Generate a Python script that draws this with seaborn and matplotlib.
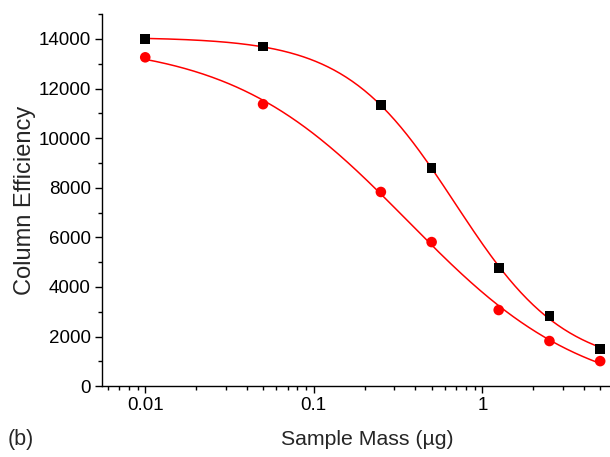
import numpy as np
import pandas as pd
import matplotlib
matplotlib.use("Agg")
import matplotlib.pyplot as plt
import seaborn as sns
from matplotlib.ticker import FixedLocator, FixedFormatter, LogLocator, MultipleLocator, NullFormatter

# ---- data ----
mass = [0.01, 0.05, 0.25, 0.5, 1.25, 2.5, 5.0]
eff_square = [14000, 13700, 11330, 8800, 4760, 2840, 1500]
eff_circle = [13260, 11370, 7830, 5810, 3070, 1820, 1010]
xtick_vals = [0.01, 0.1, 1]
xtick_labels = ["0.01", "0.1", "1"]
ytick_vals = [0, 2000, 4000, 6000, 8000, 10000, 12000, 14000]


def logistic(p, x):
    a1, a2, lx0, k = p
    return a2 + (a1 - a2) / (1.0 + 10 ** (k * (np.log10(x) - lx0)))


def fit_logistic(x, y, p0, iters=300):
    x = np.asarray(x, float)
    y = np.asarray(y, float)
    p = np.array(p0, float)
    lam = 1e-2
    def res(p):
        return logistic(p, x) - y
    r = res(p)
    cost = np.sum(r ** 2)
    for _ in range(iters):
        J = np.zeros((len(x), len(p)))
        for j in range(len(p)):
            dp = np.zeros_like(p)
            dp[j] = 1e-6 * max(1.0, abs(p[j]))
            J[:, j] = (res(p + dp) - r) / dp[j]
        A = J.T @ J
        g = J.T @ r
        step = np.linalg.solve(A + lam * np.diag(np.diag(A) + 1e-12), -g)
        pn = p + step
        rn = res(pn)
        cn = np.sum(rn ** 2)
        if cn < cost:
            p, r, cost = pn, rn, cn
            lam *= 0.3
        else:
            lam *= 10
    return p


p_sq = fit_logistic(mass, eff_square, [14000, 0, np.log10(0.6), 1.5])
p_ci = fit_logistic(mass, eff_circle, [14000, 0, np.log10(0.3), 0.8])

xx = np.logspace(np.log10(mass[0]), np.log10(mass[-1]), 300)
curves = pd.concat([
    pd.DataFrame({"x": xx, "y": logistic(p_sq, xx), "s": "square"}),
    pd.DataFrame({"x": xx, "y": logistic(p_ci, xx), "s": "circle"}),
])
df_sq = pd.DataFrame({"x": mass, "y": eff_square})
df_ci = pd.DataFrame({"x": mass, "y": eff_circle})

sns.set_style("ticks")
plt.rcParams["font.family"] = ["Liberation Sans", "DejaVu Sans"]

fig = plt.figure(figsize=(6.10, 4.57), dpi=100)
ax = fig.add_axes([0.167, 0.155, 0.832, 0.814])

sns.lineplot(data=curves, x="x", y="y", units="s", estimator=None,
             color="#ff0000", linewidth=1.1, ax=ax, sort=True, legend=False)
sns.scatterplot(data=df_sq, x="x", y="y", marker="s", color="black",
                s=48, edgecolor="none", ax=ax, zorder=5, legend=False)
sns.scatterplot(data=df_ci, x="x", y="y", marker="o", color="#ff0000",
                s=58, edgecolor="none", ax=ax, zorder=5, legend=False)

ax.set_xscale("log")
ax.set_xlim(0.00553, 5.67)
ax.set_ylim(0, 15000)

ax.xaxis.set_major_locator(FixedLocator(xtick_vals))
ax.xaxis.set_major_formatter(FixedFormatter(xtick_labels))
ax.xaxis.set_minor_locator(LogLocator(base=10, subs=np.arange(2, 10)))
ax.xaxis.set_minor_formatter(NullFormatter())
ax.yaxis.set_major_locator(FixedLocator(ytick_vals))
ax.yaxis.set_minor_locator(MultipleLocator(1000))

ax.tick_params(which="major", length=5, width=1, labelsize=13.5, color="black", labelcolor="black", pad=3)
ax.tick_params(which="minor", length=3, width=1, color="black")
for sp in ["top", "right"]:
    ax.spines[sp].set_visible(False)
for sp in ["left", "bottom"]:
    ax.spines[sp].set_linewidth(1.0)
    ax.spines[sp].set_color("black")

ax.set_xlabel("Sample Mass (\u00b5g)", fontsize=15.3, labelpad=11, x=0.524)
ax.set_ylabel("Column Efficiency", fontsize=17, labelpad=1.5)
fig.text(0.013, 0.015, "(b)", fontsize=15.5, ha="left", va="bottom")

fig.savefig("out.png", dpi=100)
